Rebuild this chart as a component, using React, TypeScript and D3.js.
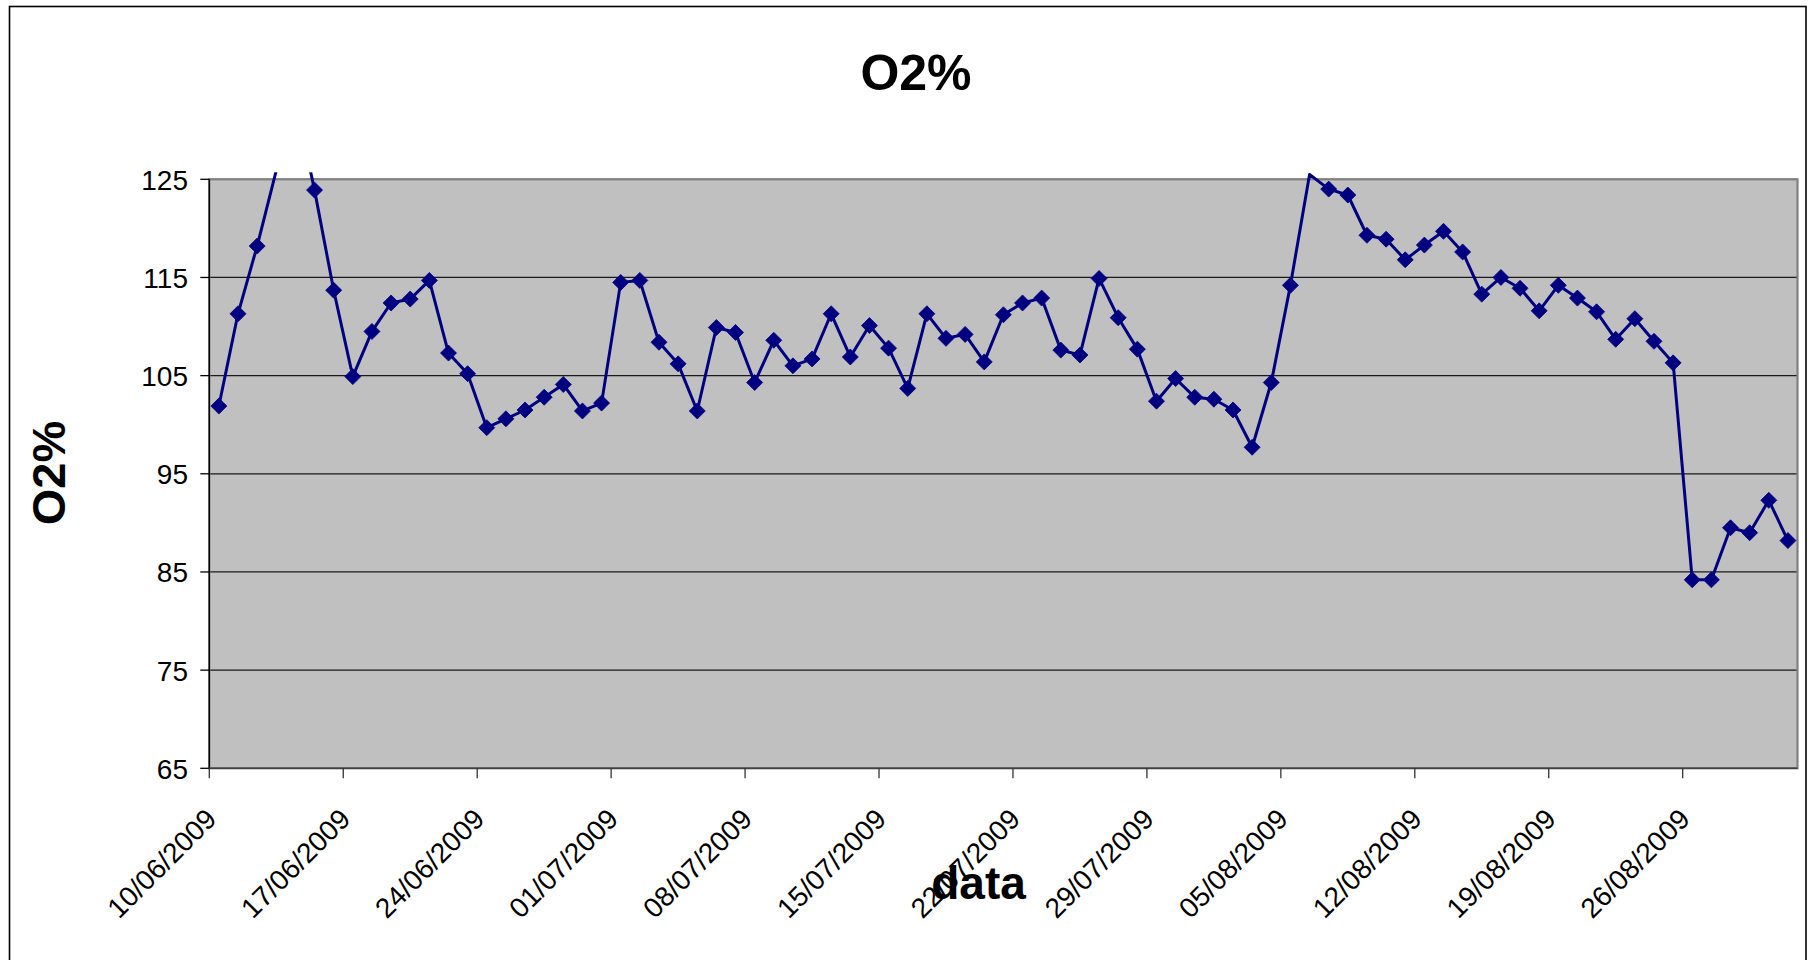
import React from "react";
import * as d3 from "d3";

// ---- data ----
const startDate = new Date(2009, 5, 10);
const endDate = new Date(2009, 8, 1);
const fmt = d3.timeFormat("%d/%m/%Y");
const categories: string[] = d3.timeDay.range(startDate, endDate).map((d) => fmt(d));

const o2Values: number[] = [
  101.9, 111.3, 118.2, 125.9, 133.0, 123.9, 113.7, 104.9, 109.5, 112.4, 112.8,
  114.7, 107.3, 105.2, 99.7, 100.6, 101.5, 102.8, 104.1, 101.4, 102.2, 114.5,
  114.7, 108.4, 106.2, 101.4, 109.9, 109.4, 104.3, 108.6, 106.0, 106.7, 111.3,
  106.9, 110.1, 107.8, 103.7, 111.3, 108.8, 109.2, 106.4, 111.2, 112.4, 112.9,
  107.6, 107.1, 114.9, 110.9, 107.7, 102.4, 104.7, 102.8, 102.6, 101.5, 97.7,
  104.3, 114.2, 125.5, 124.0, 123.4, 119.3, 118.9, 116.8, 118.3, 119.7, 117.6,
  113.3, 115.0, 113.9, 111.6, 114.2, 112.9, 111.5, 108.7, 110.8, 108.5, 106.3,
  84.2, 84.2, 89.5, 89.0, 92.3, 88.2,
];

const xTickLabels: string[] = [
  "10/06/2009", "17/06/2009", "24/06/2009", "01/07/2009", "08/07/2009",
  "15/07/2009", "22/07/2009", "29/07/2009", "05/08/2009", "12/08/2009",
  "19/08/2009", "26/08/2009",
];
const yTicks: number[] = [65, 75, 85, 95, 105, 115, 125];

const chartTitle = "O2%";
const yTitle = "O2%";
const xTitle = "data";

// ---- layout ----
const W = 1809;
const H = 960;
const plot = { left: 209.3, right: 1797.5, top: 179.3, bottom: 768.3 };
const FONT = "'Liberation Sans', Arial, Helvetica, sans-serif";

export default function App() {
  const x = d3
    .scaleBand<string>()
    .domain(categories)
    .range([plot.left, plot.right])
    .paddingInner(0)
    .paddingOuter(0);
  const y = d3.scaleLinear().domain([65, 125]).range([plot.bottom, plot.top]);

  const pts = o2Values.map((v, i) => ({
    cx: (x(categories[i]) as number) + x.bandwidth() / 2,
    cy: y(v),
    v,
  }));
  const line = d3
    .line<{ cx: number; cy: number }>()
    .x((d) => d.cx)
    .y((d) => d.cy);
  const diamond = (cx: number, cy: number, r: number) =>
    `M${cx},${cy - r}L${cx + r},${cy}L${cx},${cy + r}L${cx - r},${cy}Z`;

  const plotW = plot.right - plot.left;
  const plotH = plot.bottom - plot.top;

  return (
    <svg
      width={W}
      height={H}
      style={{ position: "absolute", left: 0, top: 0, display: "block", background: "#fff" }}
      fontFamily={FONT}
    >
      <defs>
        <clipPath id="plotClip">
          <rect x={plot.left} y={plot.top - 7} width={plotW} height={plotH + 7} />
        </clipPath>
      </defs>
      {/* chart area border */}
      <rect x={9.5} y={6.5} width={1796.5} height={1100} fill="#fff" stroke="#000" strokeWidth={1.6} />

      {/* plot area */}
      <rect x={plot.left} y={plot.top} width={plotW} height={plotH} fill="#c0c0c0" />
      {yTicks.map((t) => (
        <line key={"g" + t} x1={plot.left} x2={plot.right} y1={y(t)} y2={y(t)} stroke="#1a1a1a" strokeWidth={1.3} />
      ))}
      <rect x={plot.left} y={plot.top} width={plotW} height={plotH} fill="none" stroke="#808080" strokeWidth={2.2} />

      {/* y axis */}
      <line x1={plot.left} x2={plot.left} y1={plot.top} y2={plot.bottom} stroke="#000" strokeWidth={1.4} />
      {yTicks.map((t) => (
        <g key={"yt" + t}>
          <line x1={plot.left - 9} x2={plot.left} y1={y(t)} y2={y(t)} stroke="#000" strokeWidth={1.3} />
          <text x={188} y={y(t) + 1} textAnchor="end" dominantBaseline="central" fontSize={28} fill="#000">
            {t}
          </text>
        </g>
      ))}

      {/* x axis */}
      <line x1={plot.left} x2={plot.right} y1={plot.bottom} y2={plot.bottom} stroke="#404040" strokeWidth={1.6} />
      {xTickLabels.map((lab) => {
        const tx = x(lab) as number;
        return (
          <g key={"xt" + lab}>
            <line x1={tx} x2={tx} y1={plot.bottom} y2={plot.bottom + 10} stroke="#333" strokeWidth={1.3} />
            <text
              transform={`translate(${tx + 2},${814}) rotate(-45)`}
              textAnchor="end"
              dominantBaseline="central"
              fontSize={28}
              fill="#000"
            >
              {lab}
            </text>
          </g>
        );
      })}

      {/* series */}
      <g clipPath="url(#plotClip)">
        <path d={line(pts) || ""} fill="none" stroke="#000080" strokeWidth={3} strokeLinejoin="round" />
      </g>
      {pts
        .filter((p) => p.v <= 125 && p.v >= 65)
        .map((p, i) => (
          <path key={"m" + i} d={diamond(p.cx, p.cy, 8)} fill="#000080" stroke="#000080" strokeWidth={0.8} />
        ))}

      {/* titles */}
      <text x={916} y={90} textAnchor="middle" fontSize={50} fontWeight="bold" fill="#000">
        {chartTitle}
      </text>
      <text transform={`translate(65,473) rotate(-90)`} textAnchor="middle" fontSize={47} fontWeight="bold" fill="#000">
        {yTitle}
      </text>
      <text x={978.5} y={899} textAnchor="middle" fontSize={46} fontWeight="bold" fill="#000">
        {xTitle}
      </text>
    </svg>
  );
}
